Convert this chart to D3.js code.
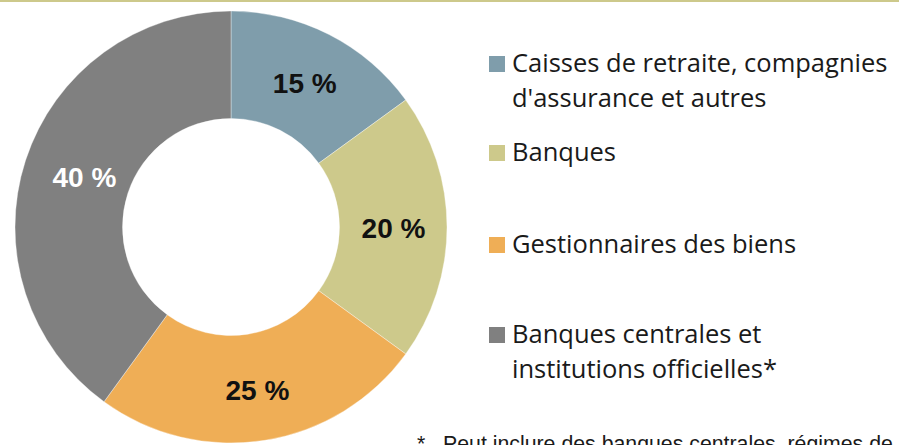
<!DOCTYPE html>
<html>
<head>
<meta charset="utf-8">
<script src="https://cdn.jsdelivr.net/npm/d3@7"></script>
<style>
  html, body { margin: 0; padding: 0; background: #fff; }
  svg { display: block; }
</style>
</head>
<body>
<svg id="chart" width="899" height="445"></svg>
<script>
// Investor categories and their share (%)
const categories = [
  ["Caisses de retraite, compagnies", "d'assurance et autres"],
  ["Banques"],
  ["Gestionnaires des biens"],
  ["Banques centrales et", "institutions officielles*"]
];
const shares = [15, 20, 25, 40];
const colors = ["#7f9dab", "#cdc98b", "#efae56", "#808080"];
const labelColors = ["#111", "#111", "#111", "#fff"];
const footnote = ["*", "Peut inclure des banques centrales, régimes de"];

const svg = d3.select("#chart");
const W = 899, H = 445;

// top rule
svg.append("rect").attr("x", 0).attr("y", 0).attr("width", W).attr("height", 2)
  .attr("fill", "#cdc98b");

// donut
const cx = 231, cy = 227, outerR = 216, innerR = 108.5;
const pie = d3.pie().sort(null).value(d => d);
const arcs = pie(shares);
const arc = d3.arc().innerRadius(innerR).outerRadius(outerR);
const labelArc = d3.arc().innerRadius(162.5).outerRadius(162.5);

const g = svg.append("g").attr("transform", `translate(${cx},${cy})`);
g.selectAll("path.slice")
  .data(arcs)
  .join("path")
  .attr("class", "slice")
  .attr("d", arc)
  .attr("fill", (d, i) => colors[i])
  .attr("stroke", "#ffffff")
  .attr("stroke-opacity", 0.6)
  .attr("stroke-width", 0.6);

// small nudges so the labels sit where they read best
const labelNudge = [[0, 1], [0, 1], [1, 3], [8, 1]];
g.selectAll("text.val")
  .data(arcs)
  .join("text")
  .attr("class", "val")
  .attr("x", (d, i) => labelArc.centroid(d)[0] + labelNudge[i][0])
  .attr("y", (d, i) => labelArc.centroid(d)[1] + labelNudge[i][1])
  .attr("text-anchor", "middle")
  .attr("dominant-baseline", "central")
  .attr("font-family", "Liberation Sans, Arial, sans-serif")
  .attr("font-weight", "bold")
  .attr("font-size", 28)
  .attr("fill", (d, i) => labelColors[i])
  .text(d => `${d.data} %`);

// legend
const legendBaselines = [72, 161, 253, 343];
const lineGap = 35;
const legend = svg.append("g");
categories.forEach((lines, i) => {
  const base = legendBaselines[i];
  legend.append("rect")
    .attr("x", 489).attr("y", base - 16)
    .attr("width", 16).attr("height", 16)
    .attr("fill", colors[i]);
  const t = legend.append("text")
    .attr("font-family", "Open Sans, Noto Sans, sans-serif")
    .attr("font-size", 25.5)
    .attr("fill", "#1a1a1a");
  lines.forEach((ln, j) => {
    t.append("tspan").attr("x", 512).attr("y", base + j * lineGap).text(ln);
  });
});

// footnote
const fn = svg.append("g")
  .attr("font-family", "Liberation Sans, Arial, sans-serif")
  .attr("font-size", 21.3)
  .attr("fill", "#1a1a1a");
fn.append("text").attr("x", 417).attr("y", 451).text(footnote[0]);
fn.append("text").attr("x", 443).attr("y", 451).text(footnote[1]);
</script>
</body>
</html>
